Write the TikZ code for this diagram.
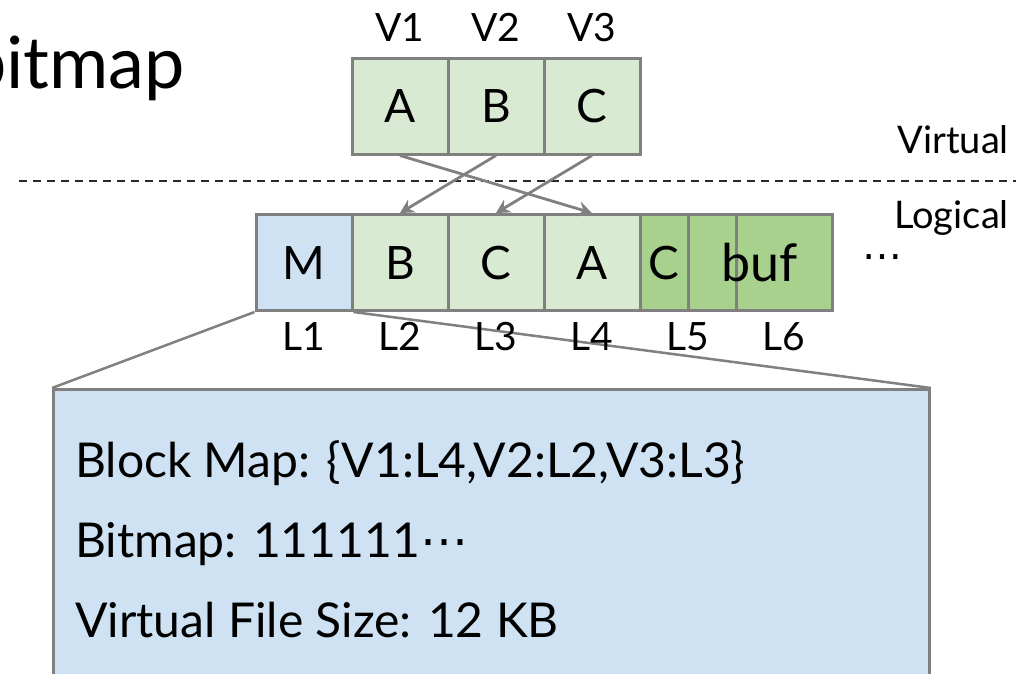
\documentclass[tikz,border=0pt]{standalone}
\usepackage{fontspec}
\setmainfont{Lato}
\newfontfamily\dotsfont{DejaVu Sans}
\usetikzlibrary{arrows.meta}
\definecolor{lgreen}{RGB}{217,234,211}
\definecolor{dgreen}{RGB}{169,209,142}
\definecolor{lblue}{RGB}{207,226,243}
\definecolor{gbord}{RGB}{128,128,128}
\definecolor{dashc}{RGB}{40,40,40}
\newcommand{\fsz}[1]{\fontsize{#1}{#1}\selectfont}
\newcommand{\cdotsym}{{\dotsfont ⋯}}
\tikzset{
  cell/.style={draw=gbord, line width=3pt, inner sep=0pt,
    minimum width=96pt, minimum height=96pt,
    font=\fsz{46}, text height=33pt, text depth=0pt},
  halfcell/.style={cell, minimum width=48pt},
  lbl/.style={font=\fsz{39}, anchor=base, inner sep=0pt},
  sidelbl/.style={font=\fsz{38}, anchor=base east, inner sep=0pt},
  link/.style={draw=gbord, line width=2.5pt},
  mapto/.style={draw=gbord, line width=2.8pt, -{Stealth[length=14pt,width=15pt,inset=5pt]}},
  info/.style={font=\fsz{48}, anchor=base west, inner sep=0pt},
}
\begin{document}
\begin{tikzpicture}[x=1pt, y=-1pt]
\useasboundingbox (0,0) rectangle (1024,673);

% title fragment at the top left
\node[font=\fsz{72}, anchor=base east, inner sep=0pt] (title) at (185,88) {bitmap};

% virtual blocks
\node[cell, fill=lgreen] (vA) at (400,106) {A};
\node[cell, fill=lgreen] (vB) at (496,106) {B};
\node[cell, fill=lgreen] (vC) at (592,106) {C};
\node[lbl] (v1) at (400,41) {V1};
\node[lbl] (v2) at (496,41) {V2};
\node[lbl] (v3) at (592,41) {V3};

% layer separator
\coordinate (sepL) at (19,181);
\coordinate (sepR) at (1016,181);
\draw[dashc, line width=2pt, dash pattern=on 8pt off 6pt] (sepL) -- (sepR);
\node[sidelbl] (virt) at (1009,153) {Virtual};
\node[sidelbl] (logi) at (1009,228) {Logical};

% expanded view of the metadata block
\node[draw=gbord, line width=3pt, fill=lblue, minimum width=876pt, minimum height=320pt,
      inner sep=0pt, anchor=north west] (meta) at (52,388) {};

% logical blocks
\node[cell, fill=lblue]  (lM) at (304,262.5) {M};
\node[cell, fill=lgreen] (lB) at (400,262.5) {B};
\node[cell, fill=lgreen] (lC) at (496,262.5) {C};
\node[cell, fill=lgreen] (lA) at (592,262.5) {A};
\node[halfcell, fill=dgreen] (l5a) at (664,262.5) {C};
\node[halfcell, fill=dgreen] (l5b) at (712,262.5) {};
\node[cell, fill=dgreen] (l6) at (784,262.5) {};
\node[font=\fsz{52}, inner sep=0pt, text height=37pt, text depth=0pt] (buf) at (760,262.5) {buf};
\node[font=\fsz{40}, inner sep=0pt] (more) at (882,262) {\cdotsym};

\path[link] (lM.south west) -- (meta.north west);
\path[link] (lM.south east) -- (meta.north east);

\node[lbl] (n1) at (304,350) {L1};
\node[lbl] (n2) at (400,350) {L2};
\node[lbl] (n3) at (496,350) {L3};
\node[lbl] (n4) at (592,350) {L4};
\node[lbl] (n5) at (688,350) {L5};
\node[lbl] (n6) at (784,350) {L6};

% block map arrows
\path[mapto] (vA.south) -- (lA.north);
\path[mapto] (vB.south) -- (lB.north);
\path[mapto] (vC.south) -- (lC.north);

% metadata contents
\node[info] (t1) at (75,477) {Block Map: \{V1:L4,V2:L2,V3:L3\}};
\node[info] (t2) at (75,557) {Bitmap: 111111\cdotsym};
\node[info] (t3) at (75,637) {Virtual File Size: 12 KB};
\end{tikzpicture}
\end{document}
